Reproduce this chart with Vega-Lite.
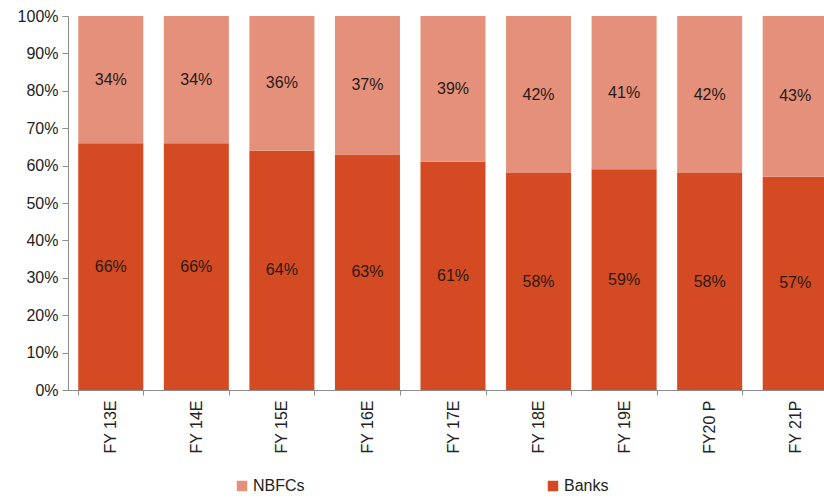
{
  "$schema": "https://vega.github.io/schema/vega-lite/v6.json",
  "width": 756,
  "height": 374,
  "autosize": {"type": "none"},
  "padding": {"left": 68, "top": 16, "right": 0, "bottom": 108},
  "background": "white",
  "config": {
    "font": "Liberation Sans",
    "view": {"stroke": null},
    "axis": {"domainColor": "#8c8c8c", "tickColor": "#8c8c8c", "labelColor": "#222222", "labelFontSize": 16, "labelFont": "Liberation Sans", "grid": false, "title": null}
  },
  "data": {
    "values": [
      {"year": "FY 13E", "series": "Banks", "value": 66}, {"year": "FY 13E", "series": "NBFCs", "value": 34},
      {"year": "FY 14E", "series": "Banks", "value": 66}, {"year": "FY 14E", "series": "NBFCs", "value": 34},
      {"year": "FY 15E", "series": "Banks", "value": 64}, {"year": "FY 15E", "series": "NBFCs", "value": 36},
      {"year": "FY 16E", "series": "Banks", "value": 63}, {"year": "FY 16E", "series": "NBFCs", "value": 37},
      {"year": "FY 17E", "series": "Banks", "value": 61}, {"year": "FY 17E", "series": "NBFCs", "value": 39},
      {"year": "FY 18E", "series": "Banks", "value": 58}, {"year": "FY 18E", "series": "NBFCs", "value": 42},
      {"year": "FY 19E", "series": "Banks", "value": 59}, {"year": "FY 19E", "series": "NBFCs", "value": 41},
      {"year": "FY20 P", "series": "Banks", "value": 58}, {"year": "FY20 P", "series": "NBFCs", "value": 42},
      {"year": "FY 21P", "series": "Banks", "value": 57}, {"year": "FY 21P", "series": "NBFCs", "value": 43}
    ]
  },
  "transform": [
    {"stack": "value", "groupby": ["year"], "sort": [{"field": "series", "order": "ascending"}], "as": ["v0", "v1"]},
    {"calculate": "(datum.v0 + datum.v1) / 2", "as": "mid"},
    {"calculate": "datum.value + '%'", "as": "label"}
  ],
  "encoding": {
    "x": {
      "field": "year", "type": "nominal", "sort": null,
      "scale": {"range": [0, 770], "paddingInner": 0.24, "paddingOuter": 0.12},
      "axis": {"labelAngle": -90, "tickBand": "extent", "tickSize": 5, "labelPadding": 5, "labelFontSize": 16}
    }
  },
  "layer": [
    {
      "mark": {"type": "bar", "clip": true},
      "encoding": {
        "y": {"field": "v0", "type": "quantitative", "scale": {"domain": [0, 100]},
          "axis": {"values": [0, 10, 20, 30, 40, 50, 60, 70, 80, 90, 100], "tickCount": 11, "labelOverlap": false, "labelExpr": "datum.value + '%'", "tickSize": 6, "labelPadding": 4}},
        "y2": {"field": "v1"},
        "color": {
          "field": "series", "type": "nominal",
          "scale": {"domain": ["NBFCs", "Banks"], "range": ["#E4907A", "#D44A22"]},
          "legend": {"title": null, "orient": "none", "direction": "horizontal", "legendX": 166, "legendY": 462,
            "symbolType": "square", "symbolSize": 110, "labelFontSize": 16, "labelColor": "#222222", "columnPadding": 240, "labelOffset": 3}
        }
      }
    },
    {
      "mark": {"type": "text", "fontSize": 16, "color": "#2b1a14", "clip": true},
      "encoding": {
        "y": {"field": "mid", "type": "quantitative",
          "axis": {"values": [0, 10, 20, 30, 40, 50, 60, 70, 80, 90, 100], "tickCount": 11, "labelOverlap": false, "labelExpr": "datum.value + '%'", "tickSize": 6, "labelPadding": 4}},
        "text": {"field": "label", "type": "nominal"},
        "detail": {"field": "series"}
      }
    }
  ]
}
